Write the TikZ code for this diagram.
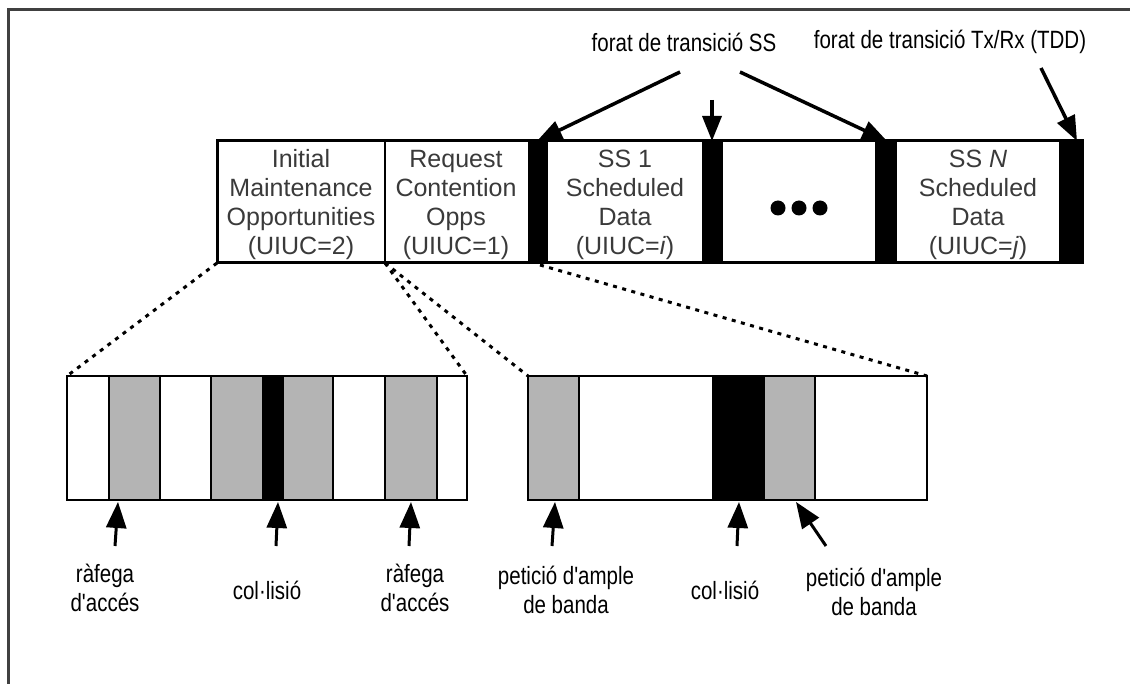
\documentclass[tikz,border=0pt]{standalone}
\usepackage{fontspec}
\setmainfont{Liberation Sans}
\newfontfamily\narrowfont[FakeStretch=0.82]{Liberation Sans}
\usetikzlibrary{arrows.meta}
\definecolor{ink}{HTML}{3A3A3A}
\definecolor{slotgray}{HTML}{B4B4B4}
\begin{document}
\begin{tikzpicture}[x=1pt,y=-1pt,
  frameline/.style={line width=3pt, draw=black!75},
  barline/.style={line width=3pt},
  cellsep/.style={line width=2pt},
  celltext/.style={font=\fontsize{25}{29}\selectfont, text=ink, align=center, inner sep=0pt},
  note/.style={font=\narrowfont\fontsize{25}{29}\selectfont, align=center, inner sep=0pt},
  gapfill/.style={fill=black},
  burst/.style={fill=slotgray},
  slotline/.style={line width=2pt},
  pointer/.style={line width=3.5pt, -{Triangle[length=25pt,width=19pt]}},
  uppointer/.style={line width=3pt, -{Triangle[length=26pt,width=20pt]}},
  zoomline/.style={line width=3pt, dash pattern=on 4pt off 5.5pt},
]
\useasboundingbox (0,0) rectangle (1130,684);
\fill[white] (0,0) rectangle (1130,684);

% outer frame (open to the right and bottom)
\draw[frameline] (8,684) -- (8,10) -- (1130,10);

% ---------- uplink subframe ----------
\fill[gapfill] (528,141) rectangle (548,263);
\fill[gapfill] (702,141) rectangle (723,263);
\fill[gapfill] (875,141) rectangle (897,263);
\fill[gapfill] (1059,141) rectangle (1082,263);
\draw[cellsep] (385,141) -- (385,263);
\draw[barline] (217,141) rectangle (1082,263);

\node[celltext] (im) at (301,205) {Initial\\Maintenance\\Opportunities\\(UIUC=2)};
\node[celltext] (rc) at (456,205) {Request\\Contention\\Opps\\(UIUC=1)};
\node[celltext] (ss1) at (625,205) {SS 1\\Scheduled\\Data\\(UIUC=\textit{i})};
\node[celltext] (ssn) at (978,205) {SS \textit{N}\\Scheduled\\Data\\(UIUC=\textit{j})};
\fill (778,208) circle (7.5) (799,208) circle (7.5) (820,208) circle (7.5);

% corners and gap tops of the subframe
\coordinate (imSW) at (217,263);
\coordinate (rcSW) at (385,263);
\coordinate (g1S) at (540,265);
\coordinate (g1N) at (537,141);
\coordinate (g2N) at (712,141);
\coordinate (g3N) at (887,141);
\coordinate (g4N) at (1077,141);

% ---------- gap labels ----------
\node[note] (ssgap) at (684,42) {forat de transició SS};
\node[note] (tddgap) at (950,42) {forat de transició Tx/Rx (TDD)};
\coordinate (ssL) at (680,72);
\coordinate (ssM) at (712,100);
\coordinate (ssR) at (740,72);
\coordinate (tdd) at (1041,68);
\draw[pointer] (ssL) -- (g1N);
\draw[pointer] (ssM) -- (g2N);
\draw[pointer] (ssR) -- (g3N);
\draw[pointer] (tdd) -- (g4N);

% ---------- expanded initial maintenance region ----------
\fill[burst] (109,376) rectangle (160,500);
\fill[burst] (211,376) rectangle (262,500);
\fill[gapfill] (262,376) rectangle (284,500);
\fill[burst] (284,376) rectangle (333,500);
\fill[burst] (385,376) rectangle (437,500);
\foreach \x in {109,160,211,333,385,437} \draw[slotline] (\x,376) -- (\x,500);
\node[draw, line width=2.5pt, minimum width=400pt, minimum height=124pt,
      anchor=north west, inner sep=0pt, outer sep=0pt] (imx) at (67,376) {};

% ---------- expanded request contention region ----------
\fill[burst] (528,376) rectangle (579,500);
\fill[gapfill] (712,376) rectangle (765,500);
\fill[burst] (765,376) rectangle (815,500);
\foreach \x in {579,815} \draw[slotline] (\x,376) -- (\x,500);
\node[draw, line width=2.5pt, minimum width=399pt, minimum height=124pt,
      anchor=north west, inner sep=0pt, outer sep=0pt] (rcx) at (528,376) {};

% zoom guides
\draw[zoomline] (imSW) -- (imx.north west);
\draw[zoomline] (rcSW) -- (imx.north east);
\draw[zoomline] (rcSW) -- (rcx.north west);
\draw[zoomline] (g1S) -- (rcx.north east);

% ---------- slot labels ----------
\node[note] (acc1) at (105,588) {ràfega\\d'accés};
\node[note] (col1) at (267,590) {col·lisió};
\node[note] (acc2) at (415,588) {ràfega\\d'accés};
\node[note] (bw1) at (566,590) {petició d'ample\\de banda};
\node[note] (col2) at (725,590) {col·lisió};
\node[note] (bw2) at (874,592) {petició d'ample\\de banda};

\coordinate (a1t) at (115,546); \coordinate (a1h) at (118,502);
\coordinate (c1t) at (276,546); \coordinate (c1h) at (278,502);
\coordinate (a2t) at (409,546); \coordinate (a2h) at (411,502);
\coordinate (b1t) at (552,546); \coordinate (b1h) at (555,502);
\coordinate (c2t) at (737,546); \coordinate (c2h) at (739,502);
\coordinate (b2t) at (826,546); \coordinate (b2h) at (796,502);
\draw[uppointer] (a1t) -- (a1h);
\draw[uppointer] (c1t) -- (c1h);
\draw[uppointer] (a2t) -- (a2h);
\draw[uppointer] (b1t) -- (b1h);
\draw[uppointer] (c2t) -- (c2h);
\draw[uppointer] (b2t) -- (b2h);
\end{tikzpicture}
\end{document}
